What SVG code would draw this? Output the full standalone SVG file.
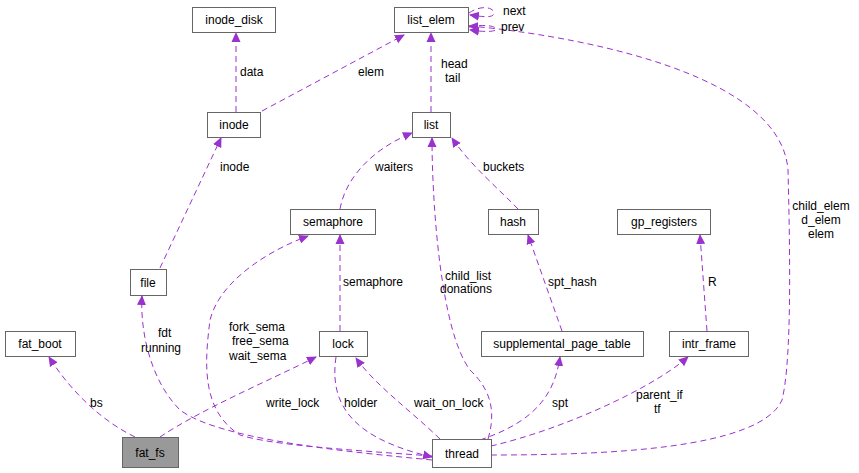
<svg xmlns="http://www.w3.org/2000/svg" width="859" height="473" viewBox="0 0 859 473">
<defs>
<marker id="a" markerWidth="10" markerHeight="10" refX="9" refY="5" orient="auto" markerUnits="userSpaceOnUse"><path d="M0,0.5 L10,5 L0,9.5 Z" fill="#9a32cd"/></marker>
<style>
.n rect{fill:#fff;stroke:#666;stroke-width:1}
text{font-family:"Liberation Sans",Arial,sans-serif;font-size:12px;fill:#000}
.n text{text-anchor:middle}
.e path{fill:none;stroke:#9a32cd;stroke-width:1;stroke-dasharray:6,4;marker-end:url(#a)}
.m{text-anchor:middle}
</style>
</defs>
<rect width="859" height="473" fill="#fff"/>
<g class="e">
<path d="M236,112 V33"/>
<path d="M262,111 L404,35"/>
<path d="M431,112 V33"/>
<path d="M469,13 C482,4 494,8 494,13 C494,18 484,17 470,15"/>
<path d="M469,27 C484,24 496,26 496,29 C496,32 484,32 470,30"/>
<path d="M491,455 C600,455 760,450 782,400 C792,360 790,250 788,170 C780,60 520,30 469,26"/>
<path d="M160,268 L221,138"/>
<path d="M340,209 C345,180 370,150 412,133"/>
<path d="M518,209 C500,190 470,165 452,138"/>
<path d="M340,331 V235"/>
<path d="M432,456 C350,450 270,445 240,435 C200,410 205,360 210,320 C220,280 270,250 308,236"/>
<path d="M488,439 C500,400 480,380 470,370 C440,330 432,200 432,138"/>
<path d="M562,331 L528,235"/>
<path d="M707,331 L700,235"/>
<path d="M432,460 C350,452 220,440 180,410 C150,380 140,330 142,296"/>
<path d="M336,357 C328,410 360,440 432,457"/>
<path d="M440,439 C410,410 375,385 356,358"/>
<path d="M135,437 C100,420 70,390 49,357"/>
<path d="M160,437 C200,410 270,380 316,357"/>
<path d="M480,440 C540,420 555,390 560,357"/>
<path d="M491,446 C560,430 650,390 688,357"/>
</g>
<g class="lab">
<text x="240" y="76">data</text>
<text x="358" y="76">elem</text>
<text x="441" y="68">head</text>
<text x="445" y="82">tail</text>
<text x="503" y="15">next</text>
<text x="501" y="31">prev</text>
<text class="m" x="821" y="210">child_elem</text>
<text class="m" x="821" y="224">d_elem</text>
<text class="m" x="821" y="238">elem</text>
<text x="220" y="171">inode</text>
<text x="375" y="171">waiters</text>
<text x="483" y="171">buckets</text>
<text x="343" y="286">semaphore</text>
<text x="445" y="280">child_list</text>
<text x="440" y="293">donations</text>
<text x="548" y="286">spt_hash</text>
<text x="708" y="286">R</text>
<text x="229" y="331">fork_sema</text>
<text x="232" y="345">free_sema</text>
<text x="229" y="360">wait_sema</text>
<text x="158" y="337">fdt</text>
<text x="141" y="352">running</text>
<text x="90" y="407">bs</text>
<text x="266" y="407">write_lock</text>
<text x="344" y="407">holder</text>
<text x="414" y="407">wait_on_lock</text>
<text x="552" y="407">spt</text>
<text x="636" y="399">parent_if</text>
<text x="654" y="413">tf</text>
</g>
<g id="inode_disk" class="n"><rect x="192.5" y="7.5" width="83" height="25"/><text x="234" y="24">inode_disk</text></g>
<g id="list_elem" class="n"><rect x="394.5" y="7.5" width="74" height="25"/><text x="431" y="24">list_elem</text></g>
<g id="inode" class="n"><rect x="207.5" y="112.5" width="53" height="25"/><text x="234" y="129">inode</text></g>
<g id="list" class="n"><rect x="412.5" y="112.5" width="38" height="25"/><text x="431" y="129">list</text></g>
<g id="semaphore" class="n"><rect x="290.5" y="209.5" width="85" height="25"/><text x="333" y="226">semaphore</text></g>
<g id="hash" class="n"><rect x="488.5" y="209.5" width="50" height="25"/><text x="513" y="226">hash</text></g>
<g id="gp_registers" class="n"><rect x="617.5" y="209.5" width="93" height="25"/><text x="664" y="226">gp_registers</text></g>
<g id="file" class="n"><rect x="130.5" y="269.5" width="36" height="26"/><text x="148" y="287">file</text></g>
<g id="fat_boot" class="n"><rect x="5.5" y="331.5" width="70" height="25"/><text x="40" y="348">fat_boot</text></g>
<g id="lock" class="n"><rect x="319.5" y="331.5" width="48" height="25"/><text x="343" y="348">lock</text></g>
<g id="supplemental_page_table" class="n"><rect x="481.5" y="331.5" width="162" height="25"/><text x="562" y="348">supplemental_page_table</text></g>
<g id="intr_frame" class="n"><rect x="669.5" y="331.5" width="79" height="25"/><text x="709" y="348">intr_frame</text></g>
<g id="fat_fs" class="n"><rect x="122.5" y="437.5" width="56" height="30" style="fill:#999"/><text x="150" y="457">fat_fs</text></g>
<g id="thread" class="n"><rect x="432.5" y="439.5" width="59" height="28"/><text x="462" y="458">thread</text></g>
</svg>
